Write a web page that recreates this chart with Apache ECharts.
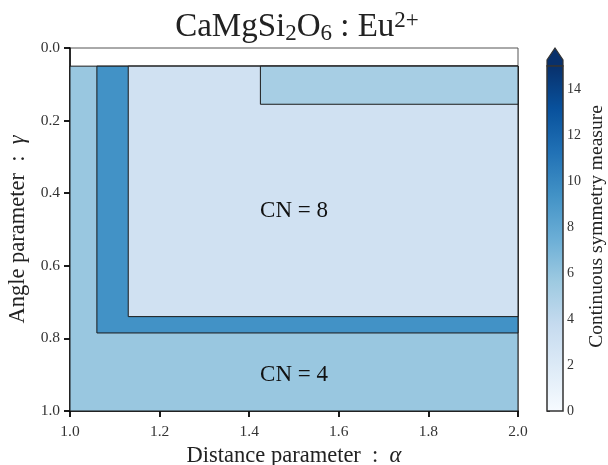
<!DOCTYPE html>
<html>
<head>
<meta charset="utf-8">
<script src="https://cdn.jsdelivr.net/npm/echarts@6/dist/echarts.min.js"></script>
<style>
  html, body { margin: 0; padding: 0; background: #fff; }
  #chart { width: 608px; height: 465px; }
</style>
</head>
<body>
<div id="chart"></div>
<script>
// regions of the phase map, drawn back to front
const regionX0 = [1.0, 1.06, 1.13, 1.425]
const regionX1 = [2.0, 2.0, 2.0, 2.0]
const regionY0 = [0.05, 0.05, 0.05, 0.05]
const regionY1 = [1.0, 0.785, 0.74, 0.155]
const regionValue = [5.8, 9.4, 3.0, 5.2]

// text labels inside the map
const cnText = ['CN = 8', 'CN = 4']
const cnX = [1.5, 1.5]
const cnY = [0.45, 0.9]

const cbarTicks = [0, 2, 4, 6, 8, 10, 12, 14]
const cbarMin = 0
const cbarMax = 15

const blues = ['#f7fbff', '#deebf7', '#c6dbef', '#9ecae1', '#6baed6', '#4292c6', '#2171b5', '#08519c', '#08306b']

const serif = 'Liberation Serif, DejaVu Serif, serif'

const regions = regionValue.map((v, i) => [regionX0[i], regionX1[i], regionY0[i], regionY1[i], v])
const labels = cnText.map((t, i) => [cnX[i], cnY[i], t])

const chart = echarts.init(document.getElementById('chart'))

const axisName = {
  rich: {
    a: {fontFamily: serif, fontSize: 22.5, color: '#222'},
    i: {fontFamily: serif, fontSize: 22.5, color: '#222', fontStyle: 'italic'}
  }
}

chart.setOption({
  backgroundColor: '#fff',
  animation: false,
  title: {
    text: '{n|CaMgSi}{s|2}{n|O}{s|6}{n| : Eu}{p|2+}',
    left: 292,
    textAlign: 'center',
    top: 4,
    textStyle: {
      fontWeight: 'normal',
      rich: {
        n: {fontFamily: serif, fontSize: 33, fontWeight: 'normal', color: '#222', lineHeight: 36},
        s: {fontFamily: serif, fontSize: 23, fontWeight: 'normal', color: '#222', lineHeight: 22, verticalAlign: 'bottom'},
        p: {fontFamily: serif, fontSize: 23, fontWeight: 'normal', color: '#222', lineHeight: 22, verticalAlign: 'top'}
      }
    }
  },
  visualMap: {
    show: false,
    type: 'continuous',
    min: cbarMin,
    max: cbarMax,
    seriesIndex: 0,
    dimension: 4,
    inRange: {color: blues}
  },
  grid: [
    {left: 70, top: 48, width: 448, height: 363, outerBoundsMode: 'none', show: true, borderColor: '#555', borderWidth: 1, backgroundColor: '#fff'},
    {left: 547, top: 66, width: 16, height: 345, outerBoundsMode: 'none'}
  ],
  xAxis: [
    {
      gridIndex: 0,
      type: 'value',
      position: 'bottom',
      min: 1,
      max: 2,
      interval: 0.2,
      name: '{a|Distance parameter  :  }{i|α}',
      nameLocation: 'middle',
      nameGap: 28,
      nameTextStyle: axisName,
      axisLine: {show: true, onZero: false, lineStyle: {color: '#000', width: 1.5}},
      axisTick: {show: true, length: 6, lineStyle: {color: '#000', width: 1.8}},
      axisLabel: {fontFamily: serif, fontSize: 15.5, color: '#333', margin: 13, formatter: v => v.toFixed(1)},
      splitLine: {show: false}
    },
    {gridIndex: 1, type: 'value', min: 0, max: 1, show: false}
  ],
  yAxis: [
    {
      gridIndex: 0,
      type: 'value',
      inverse: true,
      min: 0,
      max: 1,
      interval: 0.2,
      name: '{a|Angle parameter  :  }{i|γ}',
      nameLocation: 'middle',
      nameGap: 37,
      nameRotate: 90,
      nameTextStyle: axisName,
      axisLine: {show: true, onZero: false, lineStyle: {color: '#000', width: 1.5}},
      axisTick: {show: true, length: 6, lineStyle: {color: '#000', width: 1.8}},
      axisLabel: {fontFamily: serif, fontSize: 15.5, color: '#333', margin: 10, formatter: v => v.toFixed(1)},
      splitLine: {show: false}
    },
    {
      gridIndex: 1,
      type: 'value',
      position: 'right',
      min: cbarMin,
      max: cbarMax,
      name: 'Continuous symmetry measure',
      nameLocation: 'middle',
      nameRotate: 90,
      nameGap: 24,
      nameTextStyle: {fontFamily: serif, fontSize: 19.5, color: '#222', padding: [0, 0, 0, 24]},
      axisLine: {show: false},
      axisTick: {show: true, length: 3, customValues: cbarTicks, lineStyle: {color: '#333'}},
      axisLabel: {fontFamily: serif, fontSize: 14, color: '#333', margin: 4, customValues: cbarTicks},
      splitLine: {show: false}
    }
  ],
  series: [
    {
      type: 'custom',
      xAxisIndex: 0,
      yAxisIndex: 0,
      data: regions,
      encode: {x: [0, 1], y: [2, 3]},
      renderItem: (params, api) => {
        const p0 = api.coord([api.value(0), api.value(2)])
        const p1 = api.coord([api.value(1), api.value(3)])
        return {
          type: 'rect',
          shape: {x: p0[0], y: p0[1], width: p1[0] - p0[0], height: p1[1] - p0[1]},
          style: {fill: api.visual('color'), stroke: '#1a1a1a', lineWidth: 1}
        }
      }
    },
    {
      type: 'custom',
      xAxisIndex: 0,
      yAxisIndex: 0,
      data: labels,
      renderItem: (params, api) => {
        const p = api.coord([api.value(0), api.value(1)])
        return {
          type: 'text',
          x: p[0],
          y: p[1],
          style: {
            text: labels[params.dataIndex][2],
            fontFamily: serif,
            fontSize: 23,
            fill: '#111',
            align: 'center',
            verticalAlign: 'middle'
          }
        }
      }
    },
    {
      type: 'custom',
      xAxisIndex: 1,
      yAxisIndex: 1,
      data: [[0, cbarMin, 1, cbarMax]],
      renderItem: (params, api) => {
        const b = api.coord([api.value(0), api.value(1)])
        const t = api.coord([api.value(2), api.value(3)])
        const w = t[0] - b[0]
        return {
          type: 'group',
          children: [
            {
              type: 'polygon',
              shape: {points: [[b[0], t[1]], [t[0], t[1]], [t[0], t[1] - 6], [b[0] + w / 2, t[1] - 18], [b[0], t[1] - 6]]},
              style: {fill: blues[8], stroke: '#333', lineWidth: 1.2}
            },
            {
              type: 'rect',
              shape: {x: b[0], y: t[1], width: w, height: b[1] - t[1]},
              style: {
                fill: new echarts.graphic.LinearGradient(0, 1, 0, 0,
                  blues.map((c, i) => ({offset: i / (blues.length - 1), color: c}))),
                stroke: '#333',
                lineWidth: 1.5
              }
            }
          ]
        }
      }
    }
  ]
})
</script>
</body>
</html>
